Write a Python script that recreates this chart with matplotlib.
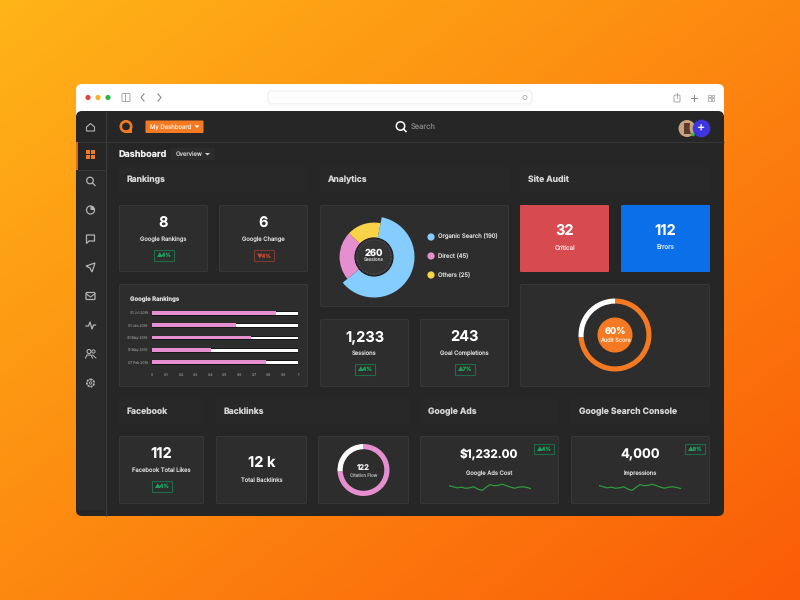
import numpy as np
import matplotlib
matplotlib.use("Agg")
import matplotlib.pyplot as plt
from matplotlib.patches import FancyBboxPatch, Rectangle, Circle, Polygon, Wedge

plt.rcParams['font.family'] = ['Inter', 'DejaVu Sans']
plt.rcParams['text.hinting'] = 'no_hinting'
plt.rcParams['text.hinting_factor'] = 1

# data
rank_dates = ["31 Jul 2019", "01 Jan 2019", "31 May 2019", "10 May 2019", "07 Feb 2019"]
rank_values = [0.85, 0.575, 0.68, 0.405, 0.78]
rank_ticks = [0, 0.1, 0.2, 0.3, 0.4, 0.5, 0.6, 0.7, 0.8, 0.9, 1]

donut_labels = ["Organic Search (190)", "Direct (45)", "Others (25)"]
donut_shares = [61, 23, 16]
audit_shares = [74, 26]
citation_shares = [74, 26]

ads_spark = [20, 17, 14, 16, 13, 14, 17, 11, 7, 15, 23, 20, 21, 24, 20, 16, 13, 16, 17, 15, 12]
impressions_spark = [20, 17, 14, 16, 13, 14, 17, 11, 7, 15, 23, 20, 21, 24, 20, 16, 13, 16, 17, 15, 12]

PINK = "#e58fd0"
BLUE = "#85cdff"
YELLOW = "#f8d347"
ORANGE = "#f37a22"
GREEN = "#1f9d5c"
RED = "#c2452f"
PANEL = "#262626"
CARD = "#2d2d2d"
EDGE = "#373737"

fig = plt.figure(figsize=(8, 6), dpi=100)

# gradient background
bg = fig.add_axes([0, 0, 1, 1])
xx, yy = np.meshgrid(np.linspace(0, 1, 200), np.linspace(0, 1, 150))
t = (xx * 0.62 + yy * 0.6)
c0 = np.array([255, 180, 24]) / 255
c1 = np.array([250, 92, 8]) / 255
grad = c0[None, None, :] + (c1 - c0)[None, None, :] * t[:, :, None] / 1.22
bg.imshow(grad, extent=[0, 800, 600, 0], aspect='auto', zorder=0)
bg.set_xlim(0, 800)
bg.set_ylim(600, 0)
bg.axis('off')


def rbox(x0, y0, x1, y1, fc, ec='none', r=2, lw=1, z=2):
    bg.add_patch(FancyBboxPatch((x0 + r, y0 + r), x1 - x0 - 2 * r, y1 - y0 - 2 * r,
                                boxstyle=f"round,pad={r},rounding_size={r}",
                                fc=fc, ec=ec, lw=lw, zorder=z))


def txt(x, y, s, size, color='#d6d6d6', weight='normal', ha='center'):
    fig.text(x / 800, 1 - y / 600, s, fontsize=size, color=color, fontweight=weight, ha=ha, va='center')


def inset(x0, y0, x1, y1):
    ax = fig.add_axes([x0 / 800, 1 - y1 / 600, (x1 - x0) / 800, (y1 - y0) / 600])
    ax.patch.set_alpha(0)
    return ax


def card(x0, y0, x1, y1):
    rbox(x0 + 0.5, y0 + 0.5, x1 - 0.5, y1 - 0.5, CARD, EDGE, r=1.5, lw=0.8, z=3)


def badge(cx, cy, s, up=True):
    col = GREEN if up else RED
    edge = "#1d6b48" if up else "#7d3a30"
    bg.add_patch(Rectangle((cx - 10, cy - 5.3), 20, 10.6, fc='none', ec=edge, lw=0.8, zorder=5))
    txt(cx, cy, ("▲" if up else "▼") + s, 3.9, col, 'bold')


def stat(x0, y0, x1, y1, value, label, delta=None, up=True):
    card(x0, y0, x1, y1)
    cx = (x0 + x1) / 2
    txt(cx, y0 + 18, value, 10.5, 'white', 'bold')
    txt(cx, y0 + 34.5, label, 4.2, '#d8d8d8')
    if delta:
        badge(cx, y0 + 50.5, delta, up)


# browser chrome
rbox(76, 84, 724, 122, 'white', r=6, z=1)
for x, c in zip([88, 98, 108], ["#e0443e", "#f5b32a", "#2fb84a"]):
    bg.add_patch(Circle((x, 97.5), 2.6, fc=c, zorder=2))
rbox(122, 93.5, 130, 101.5, 'none', '#9a9a9a', r=1, lw=0.6)
bg.plot([125, 125], [94, 101], color='#9a9a9a', lw=0.6, zorder=3)
bg.plot([144, 141, 144], [94, 97.5, 101], color='#888888', lw=0.8, zorder=3)
bg.plot([158, 161, 158], [94, 97.5, 101], color='#888888', lw=0.8, zorder=3)
rbox(268, 91, 532, 104, '#fdfdfd', '#eeeeee', r=3, lw=0.7)
bg.add_patch(Circle((525, 97.5), 2, fc='none', ec='#999999', lw=0.5, zorder=3))
rbox(674, 95, 680, 102, 'none', '#9a9a9a', r=1, lw=0.6)
bg.plot([677, 677], [92.5, 98], color='#9a9a9a', lw=0.6, zorder=3)
bg.plot([690.5, 696.5], [97.5, 97.5], color='#888888', lw=0.7, zorder=3)
bg.plot([693.5, 693.5], [94.5, 100.5], color='#888888', lw=0.7, zorder=3)
for x in [708, 711.5]:
    for y in [94.5, 98]:
        bg.add_patch(Rectangle((x, y), 2.8, 2.8, fc='none', ec='#9a9a9a', lw=0.5, zorder=3))

# app window
rbox(76, 111, 724, 516, PANEL, r=6, z=2)
bg.plot([105.5, 105.5], [111, 515.5], color='#3a3a3a', lw=0.8, zorder=3, solid_capstyle='butt')
bg.plot([76.5, 723.5], [141.5, 141.5], color='#363636', lw=0.8, zorder=3, solid_capstyle='butt')
bg.add_patch(Rectangle((77, 170), 28, 340, fc='#2b2b2b', ec='none', zorder=2.5))
bg.plot([77, 105], [170, 170], color='#3a3a3a', lw=0.7, zorder=3, solid_capstyle='butt')
bg.plot([76.6, 76.6], [142, 170], color=ORANGE, lw=1.2, zorder=4, solid_capstyle='butt')

# sidebar icons
ICON = '#b4b4b4'
bg.add_patch(Polygon([[86.5, 127], [90.5, 123.5], [94.5, 127], [94.5, 131], [86.5, 131]], fc='none', ec=ICON, lw=0.8, zorder=4))
for x in [86, 91]:
    for y in [150, 155]:
        bg.add_patch(Rectangle((x, y), 4.2, 4.2, fc=ORANGE, zorder=4))
bg.add_patch(Circle((90, 180.5), 3.3, fc='none', ec=ICON, lw=0.9, zorder=4))
bg.plot([92.5, 95], [183, 185.5], color=ICON, lw=0.9, zorder=4)
bg.add_patch(Circle((90.5, 210), 4, fc='none', ec=ICON, lw=0.9, zorder=4))
bg.add_patch(Wedge((90.5, 210), 4, 270, 360, fc=ICON, zorder=4))
bg.add_patch(Polygon([[86.5, 235], [94.5, 235], [94.5, 241], [89, 241], [86.5, 243.5]], fc='none', ec=ICON, lw=0.9, zorder=4))
bg.add_patch(Polygon([[86, 266], [95, 263], [92, 272], [90, 268]], fc='none', ec=ICON, lw=0.9, zorder=4))
rbox(86, 292.5, 95, 299.5, 'none', ICON, r=1, lw=0.9, z=4)
bg.plot([86.5, 90.5, 94.5], [294, 297, 294], color=ICON, lw=0.8, zorder=4)
bg.plot([86, 88.5, 90, 92, 93.5, 95.5], [326, 326, 322, 329, 325, 325], color=ICON, lw=0.9, zorder=4)
bg.add_patch(Circle((89, 351.5), 2, fc='none', ec=ICON, lw=0.8, zorder=4))
bg.add_patch(Circle((93.5, 351.5), 1.6, fc='none', ec=ICON, lw=0.7, zorder=4))
bg.plot([85.5, 87, 91, 92.5], [358, 355, 355, 358], color=ICON, lw=0.8, zorder=4)
bg.plot([92.5, 96], [355, 358], color=ICON, lw=0.7, zorder=4)
bg.add_patch(Circle((90.5, 383), 3.6, fc='none', ec=ICON, lw=1.3, ls=(0, (1.2, 0.5)), zorder=4))
bg.add_patch(Circle((90.5, 383), 1.2, fc='none', ec=ICON, lw=0.6, zorder=4))

# top bar logo
bg.add_patch(Circle((126, 126.5), 5.2, fc='none', ec=ORANGE, lw=1.9, zorder=4))
bg.add_patch(Rectangle((129.8, 127), 2.6, 5.8, fc=ORANGE, zorder=4))
bg.add_patch(Rectangle((126, 130.4), 6.4, 2.6, fc=ORANGE, zorder=4))
rbox(145.5, 120.5, 203.5, 133, ORANGE, r=1, z=4)
txt(150, 126.7, "My Dashboard", 4.3, '#ffe0c8', ha='left')
bg.add_patch(Polygon([[194.5, 125.5], [199.5, 125.5], [197, 128]], fc='white', zorder=5))
bg.add_patch(Circle((400.5, 126), 4.2, fc='none', ec='white', lw=1.1, zorder=4))
bg.plot([403.5, 406], [129, 131.5], color='white', lw=1.1, zorder=4)
txt(411, 126.5, "Search", 5.4, '#7d7d7d', ha='left')
bg.add_patch(Circle((687, 128.5), 8.5, fc='#c9a27f', zorder=4))
bg.add_patch(Polygon([[684, 123], [690, 123], [689.5, 129], [691, 134], [684, 134]], fc='#5e3a28', zorder=5))
bg.add_patch(Circle((693, 134.5), 1.8, fc='#2fb84a', zorder=6))
bg.add_patch(Circle((701.5, 128.5), 8.8, fc='#3c35e0', zorder=5))
txt(701.5, 128, "+", 9, 'white')

txt(119, 154.5, "Dashboard", 6.5, '#f2f2f2', 'bold', ha='left')
rbox(171, 148, 215, 160, '#2c2c2c', r=1, z=3)
txt(176, 154, "Overview", 4.3, '#c4c4c4', ha='left')
bg.add_patch(Polygon([[205, 153], [210, 153], [207.5, 155.5]], fc='#d0d0d0', zorder=5))

# section headers
headers = [(119, 308, 167, 192, "Rankings"), (320, 509, 167, 192, "Analytics"), (520, 710, 167, 192, "Site Audit"),
           (119, 204, 399, 424, "Facebook"), (216, 409, 399, 424, "Backlinks"),
           (420, 559, 399, 424, "Google Ads"), (571, 710, 399, 424, "Google Search Console")]
for x0, x1, y0, y1, title in headers:
    rbox(x0, y0, x1, y1, '#282828', r=1, z=2.6)
    txt(x0 + 8, (y0 + y1) / 2 + 0.5, title, 6.2, '#d8d8d8', 'bold', ha='left')

# stat cards
stat(119, 205, 208, 272, "8", "Google Rankings", "4%")
stat(219, 205, 308, 272, "6", "Google Change", "4%", up=False)
stat(320, 319, 409, 387, "1,233", "Sessions", "4%")
stat(420, 319, 509, 387, "243", "Goal Completions", "7%")
stat(119, 436, 204, 504, "112", "Facebook Total Likes", "4%")

card(216, 436, 307, 504)
txt(261.5, 463, "12 k", 10.5, 'white', 'bold')
txt(261.5, 480.5, "Total Backlinks", 4.2, '#d8d8d8')

# audit tiles
rbox(520, 205, 609, 272, '#d64a50', r=1, z=3)
txt(565, 231, "32", 10.5, 'white', 'bold')
txt(565, 248, "Critical", 4.5, '#f7d8d8')
rbox(621, 205, 710, 272, '#0a6fe8', r=1, z=3)
txt(665.5, 231, "112", 10.5, 'white', 'bold')
txt(665.5, 248, "Errors", 4.5, '#d6e6fb')

# rankings chart
card(119, 284, 308, 387)
txt(130, 300, "Google Rankings", 4.3, '#d8d8d8', 'bold', ha='left')
ax = inset(152, 306, 298, 369)
pos = np.arange(len(rank_dates))
ax.barh(pos, [1] * len(pos), height=0.3, color='white', edgecolor='black', linewidth=0.6)
ax.barh(pos, rank_values, height=0.3, color=PINK)
ax.set_xlim(0, 1)
ax.set_ylim(len(pos) - 0.45, -0.55)
ax.set_yticks(pos, rank_dates)
ax.set_xticks(rank_ticks, [str(v) for v in rank_ticks])
ax.tick_params(length=0, labelsize=2.5, labelcolor='#777777', pad=3)
for s in ax.spines.values():
    s.set_visible(False)

# analytics donut
card(320, 205, 509, 307)
ax = inset(333.5, 216.5, 414.5, 297.5)
ax.pie(donut_shares, radius=1, startangle=79, counterclock=False,
       colors=[BLUE, 'none', 'none'], wedgeprops=dict(width=0.55, edgecolor='none'))
ax.pie(donut_shares, radius=0.85, startangle=79, counterclock=False,
       colors=['none', PINK, YELLOW], wedgeprops=dict(width=0.4, edgecolor='none'))
ax.add_patch(Circle((0, 0), 0.47, fc='#333333', ec='#1c1c1c', lw=0.8))
ax.add_patch(Circle((0, 0), 0.42, fc='none', ec='#777777', lw=0.5, ls=(0, (1, 3))))
ax.set_xlim(-1, 1)
ax.set_ylim(-1, 1)
txt(374, 253, "260", 6.8, 'white', 'bold')
txt(374, 260, "Sessions", 3.4, '#bbbbbb')
for y, lab, col in zip([237, 256, 275], donut_labels, [BLUE, PINK, YELLOW]):
    bg.add_patch(Circle((431, y), 3.6, fc=col, zorder=5))
    txt(438, y, lab, 4.3, '#d8d8d8', ha='left')

# audit score ring
card(520, 284, 710, 387)
ax = inset(578.5, 298.5, 651.5, 371.5)
ax.pie(audit_shares, radius=1, startangle=90, counterclock=False,
       colors=[ORANGE, 'white'], wedgeprops=dict(width=0.14))
ax.add_patch(Circle((0, 0), 0.48, fc=ORANGE))
ax.set_xlim(-1, 1)
ax.set_ylim(-1, 1)
txt(615, 331.5, "60%", 6.6, 'white', 'bold')
txt(615, 340, "Audit Score", 4, '#ffe6d2')

# citation flow ring
card(318, 436, 409, 504)
ax = inset(337.5, 444, 389.5, 496)
ax.pie(citation_shares, radius=1, startangle=90, counterclock=False,
       colors=[PINK, 'white'], wedgeprops=dict(width=0.2))
ax.set_xlim(-1, 1)
ax.set_ylim(-1, 1)
txt(363.5, 467.5, "122", 5.5, '#eeeeee', 'bold')
txt(363.5, 476, "Citation Flow", 3.2, '#999999')

# sparkline cards
for x0, x1, value, value_size, label, spark, delta, sx0, sx1 in [
        (420, 559, "$1,232.00", 8.4, "Google Ads Cost", ads_spark, "4%", 449, 531),
        (571, 710, "4,000", 9.4, "Impressions", impressions_spark, "8%", 599, 681)]:
    card(x0, 436, x1, 504)
    cx = (x0 + x1) / 2 - 0.5
    txt(cx, 455, value, value_size, 'white', 'bold')
    txt(cx, 473, label, 4.2, '#d8d8d8')
    badge(x1 - 15.5, 449, delta)
    ax = inset(sx0, 482, sx1, 493)
    ax.plot(spark, color='#2f9a3c', lw=0.9)
    ax.set_xlim(0, len(spark) - 1)
    ax.set_ylim(0, 30)
    ax.axis('off')

fig.savefig("out.png", dpi=100)
